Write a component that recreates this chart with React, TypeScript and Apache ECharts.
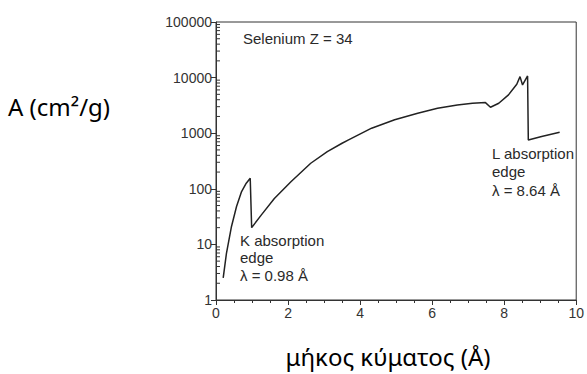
import React, { useEffect, useRef } from "react";
import * as echarts from "echarts";

const wavelength = [0.20, 0.29, 0.43, 0.57, 0.71, 0.84, 0.95, 0.99, 1.26, 1.62, 2.08, 2.63, 3.09, 3.50, 3.68, 4.32, 4.96, 5.60, 6.15, 6.70, 7.12, 7.48, 7.62, 7.85, 8.12, 8.35, 8.44, 8.51, 8.65, 8.67, 9.04, 9.54];
const absorption = [2.5, 6.9, 21, 48, 89, 126, 155, 20, 34, 67, 134, 288, 465, 659, 756, 1230, 1740, 2290, 2810, 3220, 3460, 3550, 2930, 3460, 4890, 7600, 10400, 7380, 10700, 755, 870, 1040];
const decades = [1, 10, 100, 1000, 10000];
const minorFactors = [2, 3, 4, 5, 6, 7, 8, 9];

const title = "Selenium Z = 34";
const kLines = ["K absorption", "edge", "λ = 0.98 Å"];
const lLines = ["L absorption", "edge", "λ = 8.64 Å"];
const yName = "A (cm²/g)";
const xName = "μήκος κύματος (Å)";

export default function App() {
  const ref = useRef<HTMLDivElement>(null);
  useEffect(() => {
    if (!ref.current) return;
    const chart = echarts.init(ref.current, undefined, { renderer: "svg" });
    const minorVals: number[][] = [];
    decades.forEach((d) => minorFactors.forEach((f) => minorVals.push([0, d * f])));
    const font = "15px 'Liberation Sans', Arial, sans-serif";
    const textCol = "#2a2a2a";
    const mk = (t: string, x: number, y: number) => ({
      type: "text",
      style: { text: t, x, y, font, fill: textCol, verticalAlign: "middle", textVerticalAlign: "middle" },
    });
    chart.setOption({
      animation: false,
      grid: { left: 216, right: 7, top: 22, bottom: 74, show: true, borderColor: "#333", borderWidth: 1, backgroundColor: "transparent" },
      xAxis: {
        type: "value",
        min: 0,
        max: 10,
        interval: 2,
        axisLine: { lineStyle: { color: "#333", width: 1 } },
        axisTick: { show: true, length: 5, lineStyle: { color: "#333" } },
        minorTick: { show: true, splitNumber: 4, length: 3, lineStyle: { color: "#333" } },
        splitLine: { show: false },
        axisLabel: { color: "#333", fontSize: 14, fontFamily: "'Liberation Sans', Arial, sans-serif", margin: 6 },
      },
      yAxis: {
        type: "log",
        logBase: 10,
        min: 1,
        max: 100000,
        axisLine: { show: true, lineStyle: { color: "#333", width: 1 } },
        axisTick: { show: true, length: 5, lineStyle: { color: "#333" } },
        splitLine: { show: false },
        axisLabel: {
          color: "#333",
          fontSize: 14,
          fontFamily: "'Liberation Sans', Arial, sans-serif",
          margin: 4,
          formatter: (v: number) => String(Math.round(v)),
        },
      },
      series: [
        {
          type: "line",
          data: wavelength.map((x, i) => [x, absorption[i]]),
          showSymbol: false,
          lineStyle: { color: "#222", width: 1.5 },
          itemStyle: { color: "#222" },
        },
        {
          type: "custom",
          data: minorVals,
          clip: false,
          renderItem: (params: any, api: any) => {
            const c = api.coord([api.value(0), api.value(1)]);
            return {
              type: "line",
              shape: { x1: c[0], y1: c[1], x2: c[0] + 4, y2: c[1] },
              style: { stroke: "#333", lineWidth: 1 },
            };
          },
        },
      ],
      graphic: [
        mk(title, 243, 38),
        mk(kLines[0], 240, 240),
        mk(kLines[1], 240, 257),
        mk(kLines[2], 240, 275),
        mk(lLines[0], 492, 153),
        mk(lLines[1], 492, 171),
        mk(lLines[2], 492, 190),
        {
          type: "text",
          style: { text: yName, x: 8, y: 106, font: "24px 'Noto Sans', sans-serif", fill: "#000", verticalAlign: "middle", textVerticalAlign: "middle" },
        },
        {
          type: "text",
          style: { text: xName, x: 388, y: 356, font: "24px 'Noto Sans', sans-serif", fill: "#000", align: "center", textAlign: "center", verticalAlign: "middle", textVerticalAlign: "middle" },
        },
      ],
    });
    return () => chart.dispose();
  }, []);
  return <div ref={ref} style={{ width: 587, height: 374, position: "absolute", left: 0, top: 0 }} />;
}
